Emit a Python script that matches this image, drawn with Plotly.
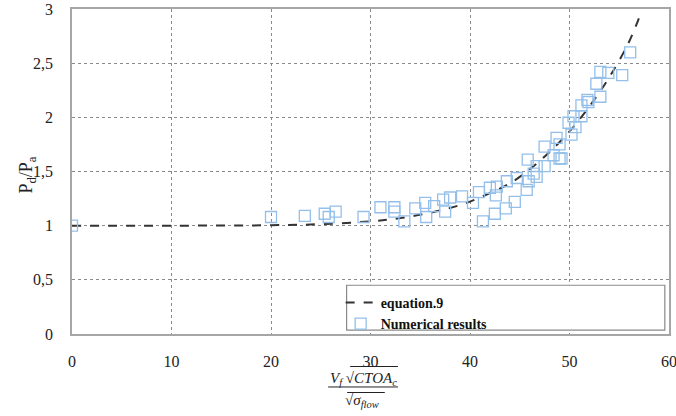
import plotly.graph_objects as go

# Numerical results (scatter)
num_x = [0, 20.0, 23.4, 25.4, 25.8, 26.5, 29.3, 31.0, 32.4, 32.4, 33.4, 34.5, 35.5, 35.6,
         36.4, 37.3, 37.5, 38.0, 39.2, 40.3, 40.9, 41.3, 42.0, 42.6, 42.7, 42.5, 43.7, 43.6,
         44.5, 44.7, 45.7, 45.9, 45.8, 46.4, 46.7, 46.7, 47.5, 47.5, 48.4, 49.0, 48.7, 49.0,
         49.2, 50.2, 49.9, 50.6, 50.4, 51.2, 51.2, 51.8, 51.9, 52.7, 53.1, 53.1, 53.9, 55.3, 56.1]
num_y = [1.0, 1.08, 1.09, 1.11, 1.08, 1.13, 1.08, 1.17, 1.17, 1.13, 1.04, 1.16, 1.21, 1.08,
         1.18, 1.24, 1.13, 1.26, 1.27, 1.21, 1.31, 1.04, 1.35, 1.28, 1.36, 1.11, 1.41, 1.16,
         1.22, 1.44, 1.33, 1.41, 1.61, 1.48, 1.45, 1.55, 1.55, 1.73, 1.65, 1.62, 1.81, 1.75,
         1.62, 1.84, 1.95, 1.91, 2.01, 2.01, 2.11, 2.16, 2.14, 2.31, 2.19, 2.42, 2.41, 2.39, 2.60]

# equation.9 curve
eq_x = [0, 10, 20, 25, 30, 33, 36, 39, 42, 44, 46, 48, 50, 52, 54, 56, 57.2]
eq_y = [1.0, 1.0, 1.004, 1.014, 1.04, 1.07, 1.12, 1.19, 1.30, 1.39, 1.52, 1.68, 1.87, 2.10, 2.37, 2.70, 2.97]

x_ticks = [0, 10, 20, 30, 40, 50, 60]
y_ticks = [0, 0.5, 1, 1.5, 2, 2.5, 3]
y_ticktext = ["0", "0,5", "1", "1,5", "2", "2,5", "3"]

SERIF = "Liberation Serif"
GRID = "#8a8a8a"
AXIS = "#a6a6a6"
TXT = "#222222"

fig = go.Figure()
fig.add_trace(go.Scatter(
    x=eq_x, y=eq_y, mode="lines", name="<b>equation.9</b>",
    line=dict(color="#333333", width=2, dash="dash", shape="spline"),
))
fig.add_trace(go.Scatter(
    x=num_x, y=num_y, mode="markers", name="<b>Numerical results</b>",
    marker=dict(symbol="square-open", size=11, color="#93bfea", line=dict(width=1.3)),
))

fig.update_layout(
    width=676, height=416,
    margin=dict(l=72, r=7, t=9, b=82),
    paper_bgcolor="white", plot_bgcolor="white",
    font=dict(family=SERIF, size=16, color=TXT),
    showlegend=True,
    legend=dict(
        x=0.45, y=0.145, xanchor="left", yanchor="top",
        bgcolor="rgba(0,0,0,0)", borderwidth=0,
        font=dict(family=SERIF, size=14, color="#111111"),
        tracegroupgap=0, itemwidth=30,
    ),
    xaxis=dict(
        range=[0, 60], tickvals=x_ticks, showgrid=True, gridcolor=GRID,
        griddash="dot", gridwidth=1, zeroline=False, showline=True,
        linecolor=AXIS, linewidth=1.5, mirror=True, ticks="",
        ticklabelstandoff=12, tickfont=dict(family=SERIF, size=16),
        automargin=False, ticklabeloverflow="allow",
    ),
    yaxis=dict(
        range=[0, 3], tickvals=y_ticks, ticktext=y_ticktext, showgrid=True,
        gridcolor=GRID, griddash="dot", gridwidth=1, zeroline=False,
        showline=True, linecolor=AXIS, linewidth=1.5, mirror=True, ticks="",
        ticklabelstandoff=14, tickfont=dict(family=SERIF, size=16),
        automargin=False, ticklabeloverflow="allow",
    ),
    shapes=[
        dict(type="rect", xref="paper", yref="paper", x0=0.46, x1=0.993,
             y0=0.012, y1=0.15, fillcolor="white",
             line=dict(color="#8a8a8a", width=1.2), layer="above"),
        # fraction bar
        dict(type="line", xref="paper", yref="paper", x0=0.429, x1=0.546,
             y0=-0.163, y1=-0.163, line=dict(color=TXT, width=1)),
        # radical overlines
        dict(type="line", xref="paper", yref="paper", x0=0.466, x1=0.546,
             y0=-0.1, y1=-0.1, line=dict(color=TXT, width=1)),
        dict(type="line", xref="paper", yref="paper", x0=0.461, x1=0.524,
             y0=-0.18, y1=-0.18, line=dict(color=TXT, width=1)),
    ],
    annotations=[
        dict(text="P<sub>d</sub>/P<sub>a</sub>", xref="paper", yref="paper",
             x=-0.074, y=0.49, xanchor="center", yanchor="middle",
             textangle=-90, showarrow=False,
             font=dict(family=SERIF, size=18, color=TXT)),
        dict(text="<i>V<sub>f</sub></i> √<i>CTOA<sub>c</sub></i>",
             xref="paper", yref="paper", x=0.489, y=-0.138,
             xanchor="center", yanchor="middle", showarrow=False,
             font=dict(family=SERIF, size=15, color=TXT)),
        dict(text="√<i>σ<sub>flow</sub></i>",
             xref="paper", yref="paper", x=0.485, y=-0.206,
             xanchor="center", yanchor="middle", showarrow=False,
             font=dict(family=SERIF, size=15, color=TXT)),
    ],
)

fig.write_html("out.html", config={"displayModeBar": False},
               post_script="document.body.style.margin='0';")
